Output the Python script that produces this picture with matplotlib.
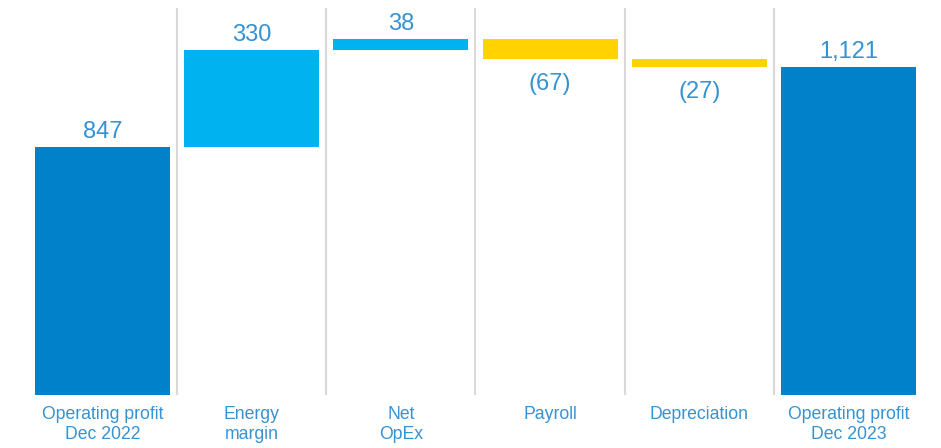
import matplotlib.pyplot as plt

categories = ["Operating profit\nDec 2022", "Energy\nmargin", "Net\nOpEx",
              "Payroll", "Depreciation", "Operating profit\nDec 2023"]
values = [847, 330, 38, -67, -27, 1121]
labels = ["847", "330", "38", "(67)", "(27)", "1,121"]
kinds = ["total", "up", "up", "down", "down", "total"]

colors = {"total": "#0081c9", "up": "#00b2ef", "down": "#ffd200"}
text_color = "#3592d3"

plt.rcParams["font.family"] = ["Liberation Sans", "DejaVu Sans"]

fig = plt.figure(figsize=(9.41, 4.48), dpi=100)
ax = fig.add_axes([0, 1 - 395 / 448, 1, (395 - 8) / 448])

running = 0
for i, (v, kind, lab) in enumerate(zip(values, kinds, labels)):
    if kind == "total":
        bottom, height = 0, v
        running = v
    else:
        bottom, height = running, v
        running += v
    ax.bar(i, height, bottom=bottom, width=0.905, color=colors[kind], zorder=2)
    top = max(bottom, bottom + height)
    low = min(bottom, bottom + height)
    if v >= 0:
        ax.annotate(lab, (i, top), xytext=(0, 3), textcoords="offset points",
                    ha="center", va="bottom", fontsize=17, color=text_color)
    else:
        ax.annotate(lab, (i, low), xytext=(0, -10), textcoords="offset points",
                    ha="center", va="top", fontsize=17, color=text_color)
    ax.text(i, -11 / 0.2928, categories[i], ha="center", va="top",
            fontsize=12.7, color=text_color, linespacing=1.2)

for i in range(len(categories) - 1):
    ax.axvline(i + 0.5, color="#d9d9d9", linewidth=1.5, zorder=1)

ax.set_xlim(-0.687, 5.62)
ax.set_ylim(0, (395 - 8) / 0.2928)
ax.axis("off")

fig.savefig("out.png", dpi=100)
